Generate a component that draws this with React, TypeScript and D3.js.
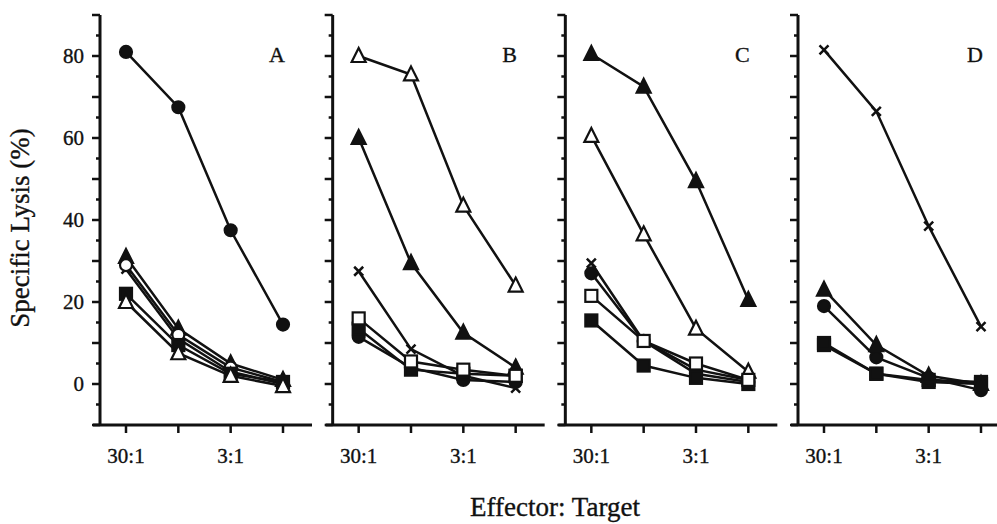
import * as d3 from "d3";

// effector:target ratios (only two are labelled on the axis)
const ratios = ["30:1", "10:1", "3:1", "1:1"];
const tickLabels = ["30:1", "", "3:1", ""];
const panelNames = ["A", "B", "C", "D"];
const yLabels = [0, 20, 40, 60, 80];

// Panel A
const aCircleFilled = [81, 67.5, 37.5, 14.5];
const aTriangleFilled = [31, 13.5, 5, 1];
const aCircleOpen = [29, 12, 4, 0.5];
const aCross = [28, 11, 3, 0];
const aSquareFilled = [22, 9.5, 2.5, 0.5];
const aTriangleOpen = [20, 7.5, 2, -0.5];

// Panel B
const bTriangleOpen = [80, 75.5, 43.5, 24];
const bTriangleFilled = [60, 29.5, 12.5, 4];
const bCross = [27.5, 8.5, 2, -1];
const bSquareOpen = [16, 5.5, 3.5, 2];
const bSquareFilled = [13.5, 3.5, 2.5, 2];
const bCircleFilled = [11.5, 4, 1, 0.5];

// Panel C
const cTriangleFilled = [80.5, 72.5, 49.5, 20.5];
const cTriangleOpen = [60.5, 36.5, 13.5, 3];
const cCross = [29.5, 10.5, 3.5, 1];
const cCircleFilled = [27, 10.5, 2.5, 0.5];
const cSquareOpen = [21.5, 10.5, 5, 1];
const cSquareFilled = [15.5, 4.5, 1.5, 0];

// Panel D
const dCross = [81.5, 66.5, 38.5, 14];
const dTriangleFilled = [23, 9.5, 2, 0];
const dCircleFilled = [19, 6.5, 1.5, -1.5];
const dSquareOpen = [9.5, 2.5, 1, 0.5];
const dSquareFilled = [10, 2.5, 0.5, 0];

type Shape = "circle" | "square" | "triangle" | "cross";
type Series = { shape: Shape; filled: boolean; values: number[] };

const panels: Series[][] = [
  [
    { shape: "circle", filled: true, values: aCircleFilled },
    { shape: "triangle", filled: true, values: aTriangleFilled },
    { shape: "cross", filled: false, values: aCross },
    { shape: "circle", filled: false, values: aCircleOpen },
    { shape: "square", filled: true, values: aSquareFilled },
    { shape: "triangle", filled: false, values: aTriangleOpen },
  ],
  [
    { shape: "triangle", filled: false, values: bTriangleOpen },
    { shape: "triangle", filled: true, values: bTriangleFilled },
    { shape: "cross", filled: false, values: bCross },
    { shape: "circle", filled: true, values: bCircleFilled },
    { shape: "square", filled: true, values: bSquareFilled },
    { shape: "square", filled: false, values: bSquareOpen },
  ],
  [
    { shape: "triangle", filled: true, values: cTriangleFilled },
    { shape: "triangle", filled: false, values: cTriangleOpen },
    { shape: "cross", filled: false, values: cCross },
    { shape: "circle", filled: true, values: cCircleFilled },
    { shape: "square", filled: true, values: cSquareFilled },
    { shape: "square", filled: false, values: cSquareOpen },
  ],
  [
    { shape: "cross", filled: false, values: dCross },
    { shape: "square", filled: false, values: dSquareOpen },
    { shape: "square", filled: true, values: dSquareFilled },
    { shape: "circle", filled: true, values: dCircleFilled },
    { shape: "triangle", filled: true, values: dTriangleFilled },
  ],
];

const W = 997,
  H = 524;
const font = "'Liberation Serif', 'Times New Roman', serif";
// scanned print looks a touch heavy, so text gets a hairline outline
const inked = { fill: "#111", stroke: "#111", strokeWidth: 0.35 };

function Marker({ shape, filled, x, y }: { shape: Shape; filled: boolean; x: number; y: number }) {
  const fill = filled ? "#111" : "#fff";
  if (shape === "circle")
    return <circle cx={x} cy={y} r={6} fill={fill} stroke="#111" strokeWidth={2.2} />;
  if (shape === "square")
    return <rect x={x - 6} y={y - 6} width={12} height={12} fill={fill} stroke="#111" strokeWidth={2.2} />;
  if (shape === "triangle") {
    const s = 7;
    return (
      <path
        d={`M${x},${y - s - 1}L${x + s},${y + s - 1}L${x - s},${y + s - 1}Z`}
        fill={fill}
        stroke="#111"
        strokeWidth={2.2}
      />
    );
  }
  const c = 4.5;
  return (
    <path
      d={`M${x - c},${y - c}L${x + c},${y + c}M${x - c},${y + c}L${x + c},${y - c}`}
      stroke="#111"
      strokeWidth={2.5}
    />
  );
}

export default function App() {
  const panelX = d3.scalePoint<string>().domain(panelNames).range([100, 798]);
  const x = d3.scalePoint<string>().domain(ratios).range([26, 183]);
  const y = d3.scaleLinear().domain([-10, 90]).range([425, 15]);
  const minorTicks = d3.range(-10, 91, 5);

  const line = d3
    .line<number>()
    .x((_, i) => x(ratios[i]) as number)
    .y((d) => y(d));

  return (
    <div style={{ position: "absolute", left: 0, top: 0 }}>
      <svg width={W} height={H} style={{ display: "block", background: "#fff" }}>
        {panelNames.map((name, pi) => {
          const ox = panelX(name) as number;
          return (
            <g key={name} transform={`translate(${ox},0)`}>
              {/* axes */}
              <line x1={0} x2={0} y1={y(90)} y2={y(-10)} stroke="#111" strokeWidth={3} />
              <line x1={-7} x2={212} y1={y(-10)} y2={y(-10)} stroke="#111" strokeWidth={3} />
              {minorTicks.map((t) => (
                <line
                  key={t}
                  x1={t % 10 === 0 ? -8 : -4}
                  x2={0}
                  y1={y(t)}
                  y2={y(t)}
                  stroke="#111"
                  strokeWidth={2.5}
                />
              ))}
              {ratios.map((r, i) => (
                <g key={r}>
                  <line x1={x(r)} x2={x(r)} y1={y(-10)} y2={y(-10) + 8} stroke="#111" strokeWidth={2.5} />
                  <text
                    x={x(r)}
                    y={463}
                    textAnchor="middle"
                    fontFamily={font}
                    fontSize={21}
                    {...inked}
                  >
                    {tickLabels[i]}
                  </text>
                </g>
              ))}
              {pi === 0 &&
                yLabels.map((t) => (
                  <text
                    key={t}
                    x={-16}
                    y={y(t)}
                    dy="0.35em"
                    textAnchor="end"
                    fontFamily={font}
                    fontSize={21}
                    {...inked}
                  >
                    {t}
                  </text>
                ))}
              <text x={177} y={62} textAnchor="middle" fontFamily={font} fontSize={22} {...inked}>
                {name}
              </text>
              {/* data */}
              {panels[pi].map((s, si) => (
                <path key={"l" + si} d={line(s.values) || ""} fill="none" stroke="#111" strokeWidth={2.5} />
              ))}
              {panels[pi].map((s, si) =>
                s.values.map((v, i) => (
                  <Marker
                    key={`m${si}-${i}`}
                    shape={s.shape}
                    filled={s.filled}
                    x={x(ratios[i]) as number}
                    y={y(v)}
                  />
                ))
              )}
            </g>
          );
        })}
        <text
          transform="translate(29,228) rotate(-90)"
          textAnchor="middle"
          fontFamily={font}
          fontSize={27}
          {...inked}
        >
          Specific Lysis (%)
        </text>
        <text x={555} y={516} textAnchor="middle" fontFamily={font} fontSize={27} {...inked}>
          Effector: Target
        </text>
      </svg>
    </div>
  );
}
